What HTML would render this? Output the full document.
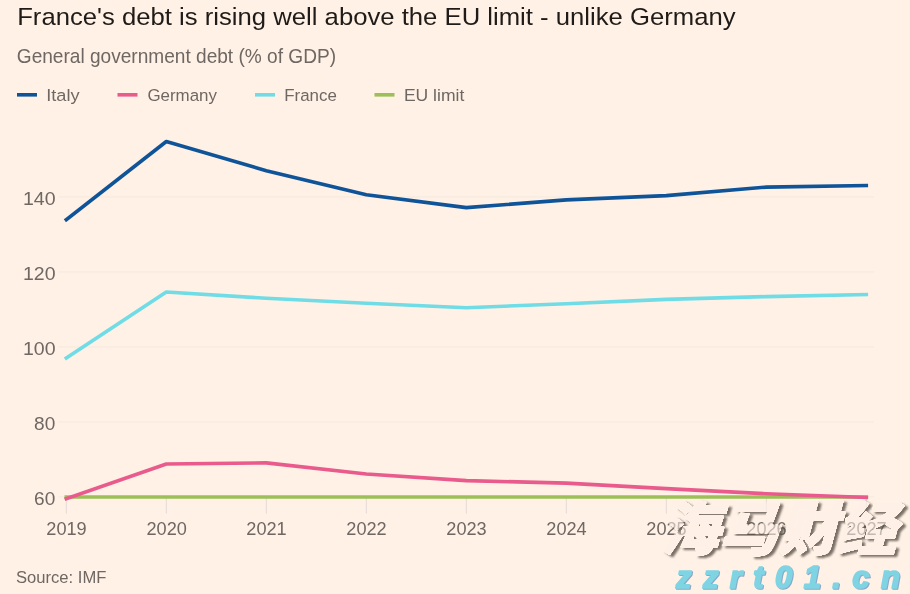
<!DOCTYPE html>
<html lang="en">
<head>
<meta charset="utf-8">
<title>France's debt is rising well above the EU limit - unlike Germany</title>
<style>
html,body{margin:0;padding:0;background:#fff1e5;}
body{width:910px;height:594px;overflow:hidden;position:relative;}
svg{display:block;position:absolute;left:0;top:0;}
text{font-family:"Liberation Sans","Noto Sans CJK SC",sans-serif;}
</style>
</head>
<body>
<svg width="910" height="594" viewBox="0 0 910 594">
<rect x="0" y="0" width="910" height="594" fill="#fff1e5"/>

<!-- title block -->
<text x="17.2" y="24.8" font-size="24.6" fill="#1f1b19" textLength="718.4" lengthAdjust="spacingAndGlyphs">France's debt is rising well above the EU limit - unlike Germany</text>
<text x="16.8" y="62.9" font-size="19.8" fill="#6e6763" textLength="319.2" lengthAdjust="spacingAndGlyphs">General government debt (% of GDP)</text>

<!-- legend -->
<g stroke-width="3.6" fill="none">
<line x1="17" y1="94.8" x2="37" y2="94.8" stroke="#0f5499"/>
<line x1="117.5" y1="94.8" x2="137.5" y2="94.8" stroke="#e85b8c"/>
<line x1="255" y1="94.8" x2="275" y2="94.8" stroke="#70dce6"/>
<line x1="374.5" y1="94.8" x2="394.5" y2="94.8" stroke="#9dbf57"/>
</g>
<g font-size="16.8" fill="#6e6763">
<text x="46.2" y="100.9" textLength="33.4" lengthAdjust="spacingAndGlyphs">Italy</text>
<text x="147.4" y="100.9" textLength="69.6" lengthAdjust="spacingAndGlyphs">Germany</text>
<text x="284.2" y="100.9" textLength="52.6" lengthAdjust="spacingAndGlyphs">France</text>
<text x="403.9" y="100.9" textLength="60.4" lengthAdjust="spacingAndGlyphs">EU limit</text>
</g>

<!-- grid -->
<g stroke="#f5e8dd" stroke-width="1" fill="none">
<line x1="58.5" y1="196.9" x2="874" y2="196.9"/>
<line x1="58.5" y1="271.9" x2="874" y2="271.9"/>
<line x1="58.5" y1="346.9" x2="874" y2="346.9"/>
<line x1="58.5" y1="421.9" x2="874" y2="421.9"/>
<line x1="58.5" y1="496.9" x2="874" y2="496.9"/>
</g>
<g stroke="#e4dad7" stroke-width="1" fill="none">
<line x1="66.3" y1="497" x2="66.3" y2="513.5"/>
<line x1="166.3" y1="497" x2="166.3" y2="513.5"/>
<line x1="266.3" y1="497" x2="266.3" y2="513.5"/>
<line x1="366.3" y1="497" x2="366.3" y2="513.5"/>
<line x1="466.3" y1="497" x2="466.3" y2="513.5"/>
<line x1="566.3" y1="497" x2="566.3" y2="513.5"/>
<line x1="666.3" y1="497" x2="666.3" y2="513.5"/>
<line x1="766.3" y1="497" x2="766.3" y2="513.5"/>
<line x1="866.3" y1="497" x2="866.3" y2="513.5"/>
</g>

<!-- y labels -->
<g font-size="17.8" fill="#6e6763" lengthAdjust="spacingAndGlyphs">
<text x="23" y="204.7" textLength="32.6" lengthAdjust="spacingAndGlyphs">140</text>
<text x="23" y="279.7" textLength="32.6" lengthAdjust="spacingAndGlyphs">120</text>
<text x="23" y="354.7" textLength="32.6" lengthAdjust="spacingAndGlyphs">100</text>
<text x="34.1" y="429.7" textLength="21.2" lengthAdjust="spacingAndGlyphs">80</text>
<text x="34.1" y="505" textLength="21.2" lengthAdjust="spacingAndGlyphs">60</text>
</g>

<!-- x labels -->
<g font-size="17.8" fill="#6e6763">
<text x="46.3" y="534.9" textLength="40.4" lengthAdjust="spacingAndGlyphs">2019</text>
<text x="146.5" y="534.9" textLength="40.4" lengthAdjust="spacingAndGlyphs">2020</text>
<text x="246.3" y="534.9" textLength="40.4" lengthAdjust="spacingAndGlyphs">2021</text>
<text x="346.3" y="534.9" textLength="40.4" lengthAdjust="spacingAndGlyphs">2022</text>
<text x="446.3" y="534.9" textLength="40.4" lengthAdjust="spacingAndGlyphs">2023</text>
<text x="546.3" y="534.9" textLength="40.4" lengthAdjust="spacingAndGlyphs">2024</text>
<text x="646.3" y="534.9" textLength="40.4" lengthAdjust="spacingAndGlyphs">2025</text>
<text x="746.3" y="534.9" textLength="40.4" lengthAdjust="spacingAndGlyphs">2026</text>
<text x="846.3" y="534.9" textLength="40.4" lengthAdjust="spacingAndGlyphs">2027</text>
</g>

<!-- series -->
<g fill="none" stroke-width="3.6" stroke-linejoin="round" stroke-linecap="square">
<polyline stroke="#9dbf57" points="66.3,497 866.3,497"/>
<polyline stroke="#e85b8c" points="66.3,498.6 166.3,464 266.3,462.9 366.3,474 466.3,480.6 566.3,483.1 666.3,488.6 766.3,493.7 866.3,497.4"/>
<polyline stroke="#70dce6" points="66.3,358.0 166.3,292.0 266.3,298.3 366.3,303.2 466.3,307.7 566.3,303.7 666.3,299.4 766.3,296.6 866.3,294.6"/>
<polyline stroke="#0f5499" points="66.3,219.6 166.3,141.5 266.3,170.7 366.3,194.8 466.3,207.6 566.3,199.9 666.3,195.6 766.3,187.1 866.3,185.6"/>
</g>

<!-- source -->
<text x="16" y="583.3" font-size="17.4" fill="#6e6763" textLength="90.4" lengthAdjust="spacingAndGlyphs">Source: IMF</text>


<!-- watermark -->
<defs>
<filter id="wmshadow" x="-10%" y="-10%" width="130%" height="130%">
<feComponentTransfer in="SourceAlpha" result="solid"><feFuncA type="linear" slope="6"/></feComponentTransfer>
<feGaussianBlur in="solid" stdDeviation="0.8" result="b"/>
<feOffset in="b" dx="2.6" dy="2.2" result="o"/>
<feFlood flood-color="#5a5048" flood-opacity="0.8"/>
<feComposite in2="o" operator="in" result="s"/>
<feComposite in="s" in2="solid" operator="out" result="so"/>
<feMerge><feMergeNode in="so"/><feMergeNode in="SourceGraphic"/></feMerge>
</filter>
<filter id="wmshadow2" x="-10%" y="-20%" width="130%" height="150%">
<feOffset in="SourceAlpha" dx="1.4" dy="1.4" result="o"/>
<feFlood flood-color="#7f9fc4" flood-opacity="0.9"/>
<feComposite in2="o" operator="in" result="s"/>
<feMerge><feMergeNode in="s"/><feMergeNode in="SourceGraphic"/></feMerge>
</filter>
</defs>
<g filter="url(#wmshadow)">
<text id="wm1" transform="translate(660,549.5) skewX(-15)" font-size="58" font-weight="900" fill="#fdf1e6" opacity="0.6" stroke="#fdf1e6" stroke-width="1.1" stroke-linejoin="round" style="font-family:'Noto Sans CJK SC','Liberation Sans',sans-serif" textLength="236" lengthAdjust="spacingAndGlyphs">海马财经</text>
</g>
<g filter="url(#wmshadow2)">
<text id="wm2" x="676" y="588" font-size="31" font-weight="bold" font-style="italic" fill="#7fd4e4" stroke="#7fd4e4" stroke-width="1.7" stroke-linejoin="round" letter-spacing="11.4">zzrt01.cn</text>
</g>

</svg>
</body>
</html>
